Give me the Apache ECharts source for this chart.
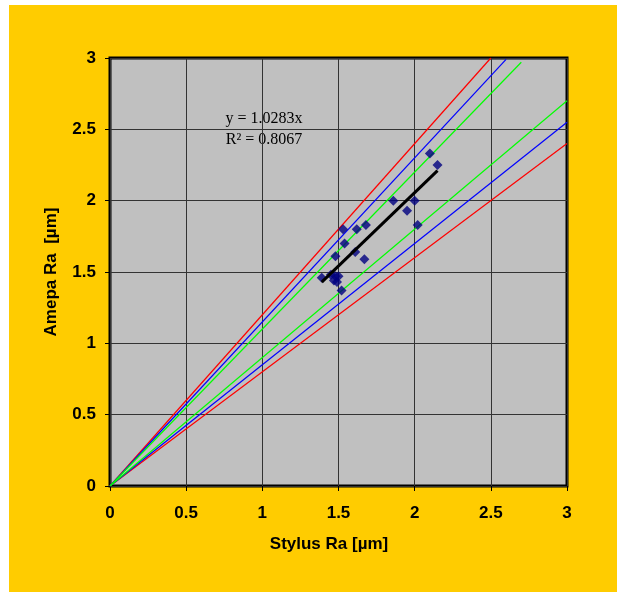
<!DOCTYPE html>
<html>
<head>
<meta charset="utf-8">
<script src="https://cdn.jsdelivr.net/npm/echarts@6/dist/echarts.min.js"></script>
<style>
html,body{margin:0;padding:0;background:#ffffff;}
#chart{position:absolute;left:9px;top:5px;width:608px;height:587px;}
</style>
</head>
<body>
<div id="chart"></div>
<script>
// Measured points: Stylus Ra (x) vs Amepa Ra (y)
const stylusRa = [2.10, 2.15, 1.86, 2.00, 1.95, 2.02, 1.53, 1.62, 1.68, 1.54, 1.61, 1.67, 1.48, 1.39, 1.45, 1.48, 1.50, 1.47, 1.49, 1.52];
const amepaRa  = [2.33, 2.25, 2.00, 2.00, 1.93, 1.83, 1.80, 1.80, 1.83, 1.70, 1.64, 1.59, 1.61, 1.46, 1.48, 1.47, 1.47, 1.44, 1.43, 1.37];

// Envelope lines through origin: [slope, max x]
const envelopeSlopes = { red: [1.2, 0.8], blue: [1.15, 0.85], green: [1.1, 0.9] };
const envelopeMaxX   = { red: [2.5, 3.0], blue: [2.6, 3.0], green: [2.7, 3.0] };

// Linear trendline (through origin)
const trendSlope = 1.0283;
const trendR2 = 0.8067;
const trendX = [1.39, 2.15];

const axisTicks = [0, 0.5, 1, 1.5, 2, 2.5, 3];

const colors = { red: '#FF0000', blue: '#0000FF', green: '#00FF00' };
const series = [];
['red', 'blue', 'green'].forEach(function (c) {
  envelopeSlopes[c].forEach(function (s, i) {
    const mx = envelopeMaxX[c][i];
    series.push({
      type: 'line', symbol: 'none', silent: true, z: 2,
      lineStyle: { color: colors[c], width: 1.2 },
      data: [[0, 0], [mx, +(s * mx).toFixed(4)]]
    });
  });
});
series.push({
  type: 'scatter', symbol: 'diamond', symbolSize: 10, z: 3,
  itemStyle: { color: '#000080' },
  data: stylusRa.map(function (x, i) { return [x, amepaRa[i]]; })
});
series.push({
  type: 'line', symbol: 'none', z: 4,
  lineStyle: { color: '#000000', width: 3 },
  data: trendX.map(function (x) { return [x, +(trendSlope * x).toFixed(4)]; })
});

const font = 'Liberation Sans, Arial, sans-serif';
const chart = echarts.init(document.getElementById('chart'));
chart.setOption({
  backgroundColor: '#FFCC00',
  animation: false,
  grid: {
    left: 101, top: 53, right: 50, bottom: 106,
    show: true, backgroundColor: '#C0C0C0', borderColor: '#000000', borderWidth: 3
  },
  xAxis: {
    type: 'value', min: axisTicks[0], max: axisTicks[axisTicks.length - 1], interval: 0.5,
    name: 'Stylus Ra [µm]', nameLocation: 'middle', nameGap: 50,
    nameTextStyle: { fontFamily: font, fontWeight: 'bold', fontSize: 17, color: '#000', padding: [0, 19, 0, 0] },
    axisLine: { show: false },
    axisTick: { show: true, length: 5, lineStyle: { color: '#000' } },
    axisLabel: { fontFamily: font, fontWeight: 'bold', fontSize: 17, color: '#000', margin: 19 },
    splitLine: { show: true, lineStyle: { color: '#333333', width: 1 } }
  },
  yAxis: {
    type: 'value', min: axisTicks[0], max: axisTicks[axisTicks.length - 1], interval: 0.5,
    name: 'Amepa Ra  [µm]', nameLocation: 'middle', nameGap: 50,
    nameTextStyle: { fontFamily: font, fontWeight: 'bold', fontSize: 17, color: '#000' },
    axisLine: { show: false },
    axisTick: { show: true, length: 5, lineStyle: { color: '#000' } },
    axisLabel: { fontFamily: font, fontWeight: 'bold', fontSize: 17, color: '#000', margin: 14 },
    splitLine: { show: true, lineStyle: { color: '#333333', width: 1 } }
  },
  graphic: [{
    type: 'group', left: 214, top: 99,
    children: [
      { type: 'rect', shape: { x: 0, y: 0, width: 82, height: 52 }, style: { fill: '#C0C0C0' } },
      { type: 'text', x: 41, y: 15, style: { text: 'y = ' + trendSlope + 'x', font: '16px "Liberation Serif", "Times New Roman", serif', fill: '#000', align: 'center', verticalAlign: 'middle' } },
      { type: 'text', x: 41, y: 36, style: { text: 'R\u00B2 = ' + trendR2, font: '16px "Liberation Serif", "Times New Roman", serif', fill: '#000', align: 'center', verticalAlign: 'middle' } }
    ]
  }],
  series: series
});
</script>
</body>
</html>
